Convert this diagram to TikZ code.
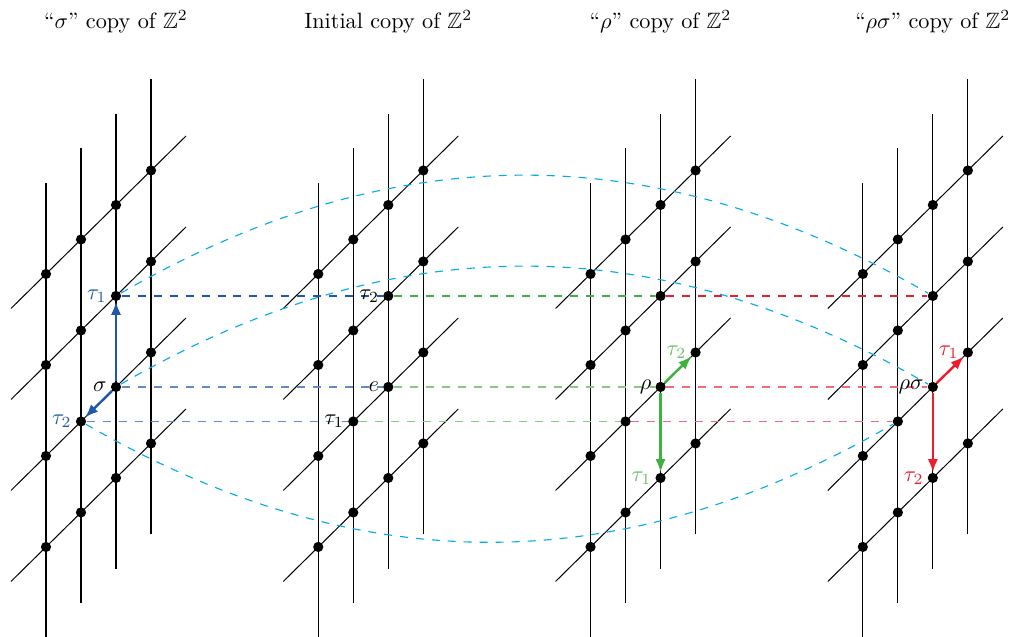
\documentclass[tikz,border=0pt]{standalone}
\usepackage{amsmath,amssymb}
\usepackage{tikz}
\usetikzlibrary{arrows.meta,calc,positioning}
\definecolor{actblue}{RGB}{31,88,170}
\definecolor{actgreen}{RGB}{62,178,62}
\definecolor{actred}{RGB}{237,28,46}
\definecolor{orbitcyan}{RGB}{0,170,235}
\tikzset{
  vline/.style={draw=black,line width=0.55pt},
  dline/.style={draw=black,line width=0.45pt},
  latdot/.style={circle,fill=black,inner sep=0pt,minimum size=4.6pt},
  link/.style={dash pattern=on 3.6pt off 3.6pt,line width=0.8pt},
  orbit/.style={draw=orbitcyan,dash pattern=on 3.6pt off 3.6pt,line width=0.5pt},
  act/.style={-{Latex[length=6pt,width=4.6pt]},line width=1.1pt},
  lbl/.style={anchor=east,inner sep=1.5pt},
  title/.style={font=\normalsize}
}
% one skewed copy of Z^2, dots named #1-i-j
\newcommand{\zcopy}[2]{%
  \begin{scope}[shift={(#2+0.728,1.424)},x={(0.554cm,0.546cm)},y={(0cm,1.44cm)}]
    \foreach \i in {0,...,3} {
      \draw[vline] (\i,-1) -- (\i,4);
    }
    \foreach \j in {0,...,3} {
      \draw[dline] (-1,\j) -- (4,\j);
    }
    \foreach \i in {0,...,3} {
      \foreach \j in {0,...,3} {
        \node[latdot] (#1-\i-\j) at (\i,\j) {};
      }
    }
  \end{scope}
}

\begin{document}
\begin{tikzpicture}[x=1cm,y=1cm]
  \useasboundingbox (0,0) rectangle (16,10.08);

  % Four copies
  \zcopy{s}{0}
  \zcopy{e}{4.309}
  \zcopy{r}{8.618}
  \zcopy{rs}{12.927}

  % Titles
  \node[title] (ttl-s) at (1.836,9.73) {``$\sigma$'' copy of $\mathbb{Z}^2$};
  \node[title] (ttl-e) at (6.145,9.73) {Initial copy of $\mathbb{Z}^2$};
  \node[title] (ttl-r) at (10.454,9.73) {``$\rho$'' copy of $\mathbb{Z}^2$};
  \node[title] (ttl-rs) at (14.763,9.73) {``$\rho\sigma$'' copy of $\mathbb{Z}^2$};

  % Horizontal links between copies
  \draw[link,draw=actblue] (s-2-2) -- (e-2-2);
  \draw[link,draw=actgreen] (e-2-2) -- (r-2-2);
  \draw[link,draw=actred] (r-2-2) -- (rs-2-2);
  \draw[link,draw=actblue!70] (s-2-1) -- (e-2-1);
  \draw[link,draw=actgreen!65] (e-2-1) -- (r-2-1);
  \draw[link,draw=actred!65] (r-2-1) -- (rs-2-1);
  \draw[link,draw=actblue!70] (s-1-1) -- (e-1-1);
  \draw[link,draw=actgreen!65] (e-1-1) -- (r-1-1);
  \draw[link,draw=actred!65] (r-1-1) -- (rs-1-1);

  % Arcs sigma copy -> rho sigma copy
  \draw[orbit] (s-2-2) to[bend left=30] (rs-2-2);
  \draw[orbit] (s-2-1) to[bend left=30] (rs-2-1);
  \draw[orbit] (s-1-1) to[bend right=30] (rs-1-1);

  % Generators
  \draw[act,actblue] (s-2-1) -- (s-2-2);
  \draw[act,actblue] (s-2-1) -- (s-1-1);
  \draw[act,actgreen] (r-2-1) -- (r-3-1);
  \draw[act,actgreen] (r-2-1) -- (r-2-0);
  \draw[act,actred] (rs-2-1) -- (rs-3-1);
  \draw[act,actred] (rs-2-1) -- (rs-2-0);

  % Labels
  \node[lbl,text=actblue] (s-t1) at (s-2-2.west) {$\tau_1$};
  \node[lbl] (s-g) at (s-2-1.west) {$\sigma$};
  \node[lbl,text=actblue] (s-t2) at (s-1-1.west) {$\tau_2$};
  \node[lbl] (e-t2) at (e-2-2.west) {$\tau_2$};
  \node[lbl] (e-g) at (e-2-1.west) {$e$};
  \node[lbl] (e-t1) at (e-1-1.west) {$\tau_1$};
  \node[lbl] (r-g) at (r-2-1.west) {$\rho$};
  \node[lbl,text=actgreen!80] (r-t2) at (r-3-1.west) {$\tau_2$};
  \node[lbl,text=actgreen!80] (r-t1) at (r-2-0.west) {$\tau_1$};
  \node[lbl] (rs-g) at (rs-2-1.west) {$\rho\sigma$};
  \node[lbl,text=actred] (rs-t1) at (rs-3-1.west) {$\tau_1$};
  \node[lbl,text=actred] (rs-t2) at (rs-2-0.west) {$\tau_2$};
\end{tikzpicture}
\end{document}
